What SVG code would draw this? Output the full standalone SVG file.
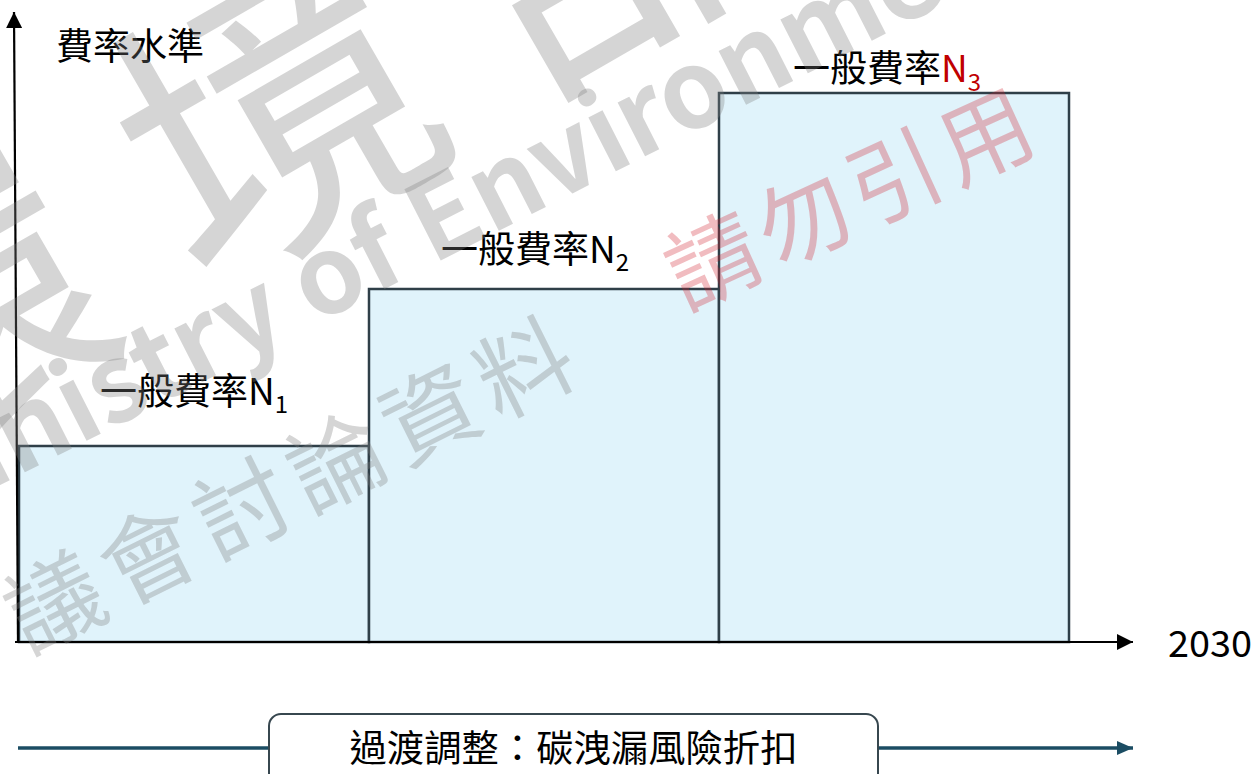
<svg xmlns="http://www.w3.org/2000/svg" width="1255" height="774" viewBox="0 0 1255 774">
<defs>
<style>
.lbl{font-family:"Noto Sans CJK TC","Noto Sans",sans-serif;font-size:37px;fill:#000}
.sub{font-size:24px}
.bar{fill:#e0f3fb;stroke:#2f3f48;stroke-width:2.5}
.wm{font-family:"Noto Sans CJK TC",sans-serif;fill:#7f7f7f;fill-opacity:0.33}
.wmr{font-family:"Noto Sans CJK TC",sans-serif;fill:#d0202e;fill-opacity:0.3}
</style>
<marker id="ah" markerWidth="16" markerHeight="16" refX="16" refY="8" orient="auto" markerUnits="userSpaceOnUse"><path d="M0,0 L16,8 L0,16 Z" fill="#000"/></marker>
<marker id="ah2" markerWidth="16" markerHeight="16" refX="16" refY="7" orient="auto" markerUnits="userSpaceOnUse"><path d="M0,0 L16,7 L0,14 Z" fill="#1b4d63"/></marker>
</defs>

<g id="bar1"><rect class="bar" x="19" y="446" width="350" height="196"/><text class="lbl" x="100" y="405">一般費率N<tspan class="sub" dy="8">1</tspan></text></g>
<g id="bar2"><rect class="bar" x="369" y="289" width="350" height="353"/><text class="lbl" x="441" y="263">一般費率N<tspan class="sub" dy="8">2</tspan></text></g>
<g id="bar3"><rect class="bar" x="719" y="93" width="350" height="549"/><text class="lbl" x="793" y="82">一般費率<tspan fill="#c00000">N</tspan><tspan class="sub" dy="9" fill="#c00000">3</tspan></text></g>

<g id="axes">
<line x1="18" y1="642" x2="14" y2="12" stroke="#000" stroke-width="2.2" marker-end="url(#ah)"/>
<line x1="15" y1="642" x2="1133" y2="642" stroke="#000" stroke-width="2.2" marker-end="url(#ah)"/>
<text class="lbl" x="56" y="60">費率水準</text>
<text class="lbl" x="1168" y="657" font-size="42" textLength="84" lengthAdjust="spacingAndGlyphs">2030</text>
</g>

<g id="connectors">
<line x1="18" y1="748" x2="269" y2="748" stroke="#1b4d63" stroke-width="3.5"/>
<line x1="878" y1="748" x2="1133" y2="748" stroke="#1b4d63" stroke-width="3.5" marker-end="url(#ah2)"/>
</g>

<g id="transition">
<rect x="269" y="714" width="609" height="80" rx="12" fill="#fff" stroke="#37474f" stroke-width="2"/>
<text class="lbl" x="573.5" y="762" text-anchor="middle" textLength="448" lengthAdjust="spacingAndGlyphs">過渡調整：碳洩漏風險折扣</text>
</g>

<g id="watermark">
<text class="wm" font-size="310" dominant-baseline="central" transform="translate(265,95) rotate(-30)"><tspan x="-540">環</tspan><tspan x="-155">境</tspan><tspan x="225">部</tspan></text>
<text class="wm" font-family="Liberation Sans,sans-serif" font-size="108" font-weight="700" transform="translate(-94,533) rotate(-27)">Ministry of Environment</text>
<text class="wm" font-size="95" letter-spacing="10" text-anchor="middle" dominant-baseline="central" transform="translate(291,477) rotate(-26.5)">議會討論資料</text>
<text class="wmr" font-size="92" letter-spacing="8" text-anchor="middle" dominant-baseline="central" transform="translate(850,191) rotate(-24.6)">請勿引用</text>
</g>
</svg>
